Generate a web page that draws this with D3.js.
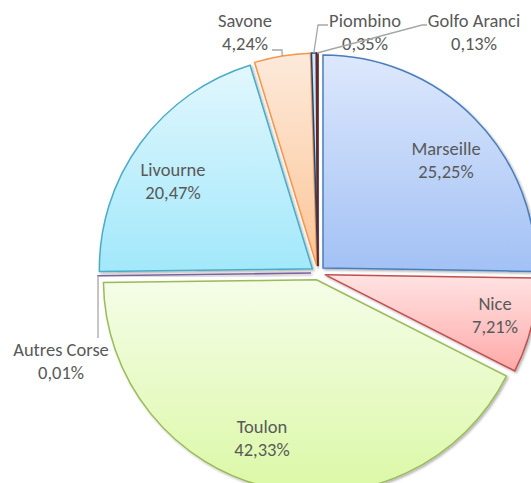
<!DOCTYPE html>
<html>
<head>
<meta charset="utf-8">
<script src="https://cdn.jsdelivr.net/npm/d3@7"></script>
<style>
  html, body { margin: 0; padding: 0; background: #fff; overflow: hidden; }
  svg { display: block; }
</style>
</head>
<body>
<div id="chart"></div>
<script>
// Data, clockwise from 12 o'clock
const ports  = ['Marseille', 'Nice', 'Toulon', 'Autres Corse', 'Livourne', 'Savone', 'Piombino', 'Golfo Aranci'];
const shares = [25.25, 7.21, 42.33, 0.01, 20.47, 4.24, 0.35, 0.13];
const shareLabels = ['25,25%', '7,21%', '42,33%', '0,01%', '20,47%', '4,24%', '0,35%', '0,13%'];

// Fill gradient (top, bottom) and border per slice
const fillTop    = ['#dde8fc', '#ffe3e3', '#f5fde8', '#c9bde0', '#e2f7fd', '#fdeadb', '#dce6f2', '#a0403d'];
const fillBottom = ['#a2c1f5', '#ffa9a8', '#dbf8a6', '#8f76b2', '#a2e8fb', '#fcc597', '#b9cde5', '#7b2a28'];
const borders    = ['#4a7ebb', '#c0504d', '#9bbb59', '#8064a2', '#4bacc6', '#f79646', '#1f497d', '#632523'];

// Layout
const W = 531, H = 483;
const cx = 318, cy = 273, R = 213, explode = 7;
const lineGap = 23;
// label blocks: first-line baseline position, relative to pie center
const inLabels = {
  'Marseille': [128, -118],
  'Nice':      [177, 37],
  'Toulon':    [-56, 160],
  'Livourne':  [-145, -97],
};
// outer labels: first baseline, leader start, elbow dx
const outLabels = {
  'Savone':       { at: [-73, -246], lead: [-46, -223], elbow: 10 },
  'Piombino':     { at: [47, -246],  lead: [10, -248],  elbow: -10 },
  'Golfo Aranci': { at: [156, -246], lead: [109, -248], elbow: -5 },
  'Autres Corse': { at: [-257, 83],  lead: [-220, 65],  elbow: 0 },
};

const svg = d3.select('#chart').append('svg')
  .attr('width', W).attr('height', H);

const defs = svg.append('defs');
const shadow = defs.append('filter').attr('id', 'shadow')
  .attr('x', '-10%').attr('y', '-10%').attr('width', '120%').attr('height', '120%');
shadow.append('feDropShadow')
  .attr('dx', 1.5).attr('dy', 1.5).attr('stdDeviation', 1.2)
  .attr('flood-color', '#000').attr('flood-opacity', 0.3);

ports.forEach((p, i) => {
  const grad = defs.append('linearGradient').attr('id', `grad${i}`)
    .attr('x1', 0).attr('y1', 0).attr('x2', 0).attr('y2', 1);
  grad.append('stop').attr('offset', '0%').attr('stop-color', fillTop[i]);
  grad.append('stop').attr('offset', '100%').attr('stop-color', fillBottom[i]);
});

const pie = d3.pie().sort(null).value(d => d.value);
const slices = pie(ports.map((p, i) => ({ name: p, value: shares[i], label: shareLabels[i], i })));
const arc = d3.arc().innerRadius(0).outerRadius(R);

const g = svg.append('g').attr('transform', `translate(${cx},${cy})`);

function offset(d, dist) {
  const a = (d.startAngle + d.endAngle) / 2;
  return [Math.sin(a) * dist, -Math.cos(a) * dist];
}

g.selectAll('path.slice').data(slices).join('path')
  .attr('class', 'slice')
  .attr('transform', d => `translate(${offset(d, explode)})`)
  .attr('d', arc)
  .attr('fill', d => `url(#grad${d.data.i})`)
  .attr('stroke', d => borders[d.data.i])
  .attr('stroke-width', 1.5)
  .attr('stroke-linejoin', 'miter')
  .attr('filter', 'url(#shadow)');

const font = 'Carlito, Calibri, Lato, "Open Sans", sans-serif';

function drawLabel(x, y, d) {
  const t = g.append('text')
    .attr('text-anchor', 'middle')
    .attr('font-family', font).attr('font-size', 18.5)
    .attr('fill', '#595959');
  t.append('tspan').attr('x', x).attr('y', y).text(d.data.name);
  t.append('tspan').attr('x', x).attr('y', y + lineGap).text(d.data.label);
}

slices.forEach(d => {
  const name = d.data.name;
  if (inLabels[name]) {
    const [x, y] = inLabels[name];
    drawLabel(x, y, d);
  } else if (outLabels[name]) {
    const o = outLabels[name];
    const [ox, oy] = offset(d, explode);
    const [ax, ay] = offset(d, R);
    const end = [ox + ax, oy + ay];
    const pts = [o.lead, [o.lead[0] + o.elbow, o.lead[1]], end];
    g.append('path')
      .attr('d', d3.line()(pts))
      .attr('fill', 'none')
      .attr('stroke', '#a6a6a6')
      .attr('stroke-width', 1.3);
    drawLabel(o.at[0], o.at[1], d);
  }
});
</script>
</body>
</html>
